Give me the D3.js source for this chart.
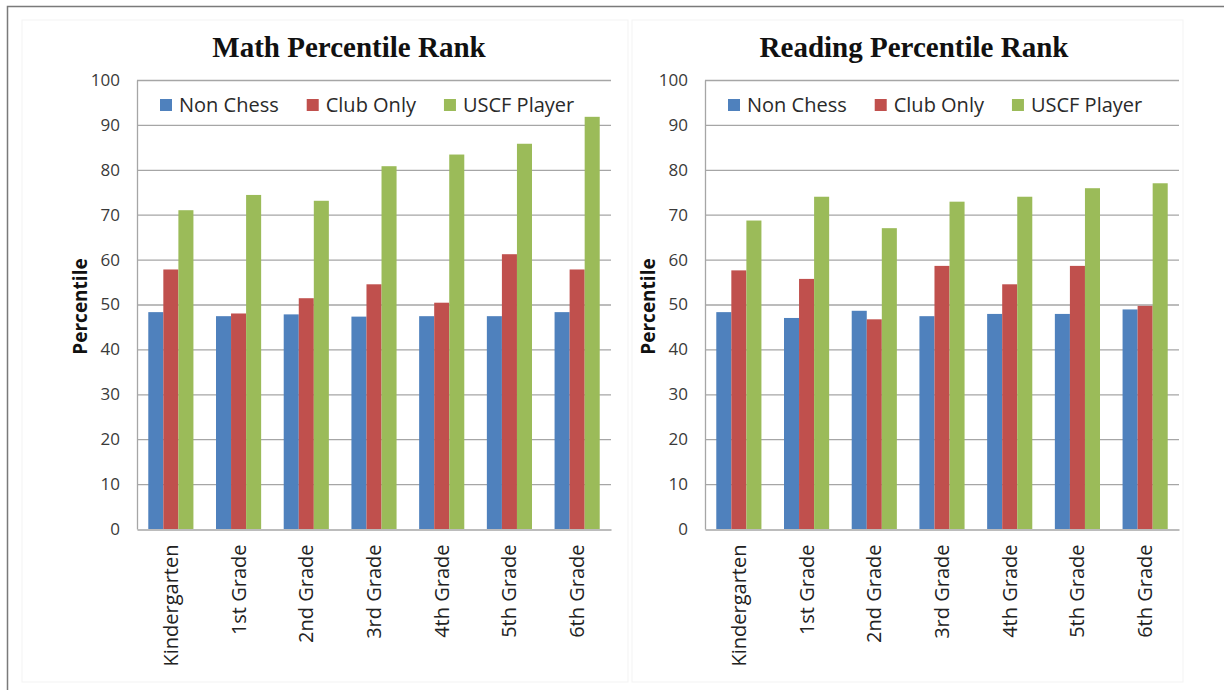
<!DOCTYPE html>
<html>
<head>
<meta charset="utf-8">
<script src="https://cdn.jsdelivr.net/npm/d3@7"></script>
<style>
  html, body { margin: 0; padding: 0; background: #fff; }
  svg { display: block; }
</style>
</head>
<body>
<svg id="chart" width="1224" height="690"></svg>
<script>
// Grade levels on the category axis
const grades = ["Kindergarten", "1st Grade", "2nd Grade", "3rd Grade", "4th Grade", "5th Grade", "6th Grade"];
// Player groups (bar series)
const groups = ["Non Chess", "Club Only", "USCF Player"];
const groupColors = ["#4F81BD", "#C0504D", "#9BBB59"];
// Y axis ticks
const yTicks = [0, 10, 20, 30, 40, 50, 60, 70, 80, 90, 100];

// Math percentile rank by grade
const mathNonChess   = [48.3, 47.4, 47.8, 47.3, 47.4, 47.4, 48.3];
const mathClubOnly   = [57.8, 48.0, 51.4, 54.5, 50.4, 61.2, 57.8];
const mathUSCFPlayer = [71.0, 74.4, 73.1, 80.8, 83.4, 85.8, 91.8];

// Reading percentile rank by grade
const readNonChess   = [48.3, 47.0, 48.6, 47.4, 47.9, 47.9, 48.9];
const readClubOnly   = [57.6, 55.7, 46.7, 58.6, 54.5, 58.6, 49.7];
const readUSCFPlayer = [68.7, 74.0, 67.0, 72.9, 74.0, 75.9, 77.0];

const svg = d3.select("#chart");

// Outer frame
svg.append("path")
  .attr("d", "M7.5,690 L7.5,6.5 L1224,6.5")
  .attr("fill", "none")
  .attr("stroke", "#7a7a7a")
  .attr("stroke-width", 1.5);

const tickFont = "'Open Sans', sans-serif";

function drawPanel(opts) {
  const { title, series, x0, x1, titleX } = opts;
  const yTop = 80, yBottom = 529;

  const g = svg.append("g");

  // faint chart-area border
  g.append("rect")
    .attr("x", opts.areaX).attr("y", 20)
    .attr("width", opts.areaW).attr("height", 662)
    .attr("fill", "none").attr("stroke", "#f3f3f3").attr("stroke-width", 1);

  const x = d3.scaleBand().domain(grades).range([x0, x1])
    .paddingInner(1 / 3).paddingOuter(1 / 6);
  const xs = d3.scaleBand().domain(groups).range([0, x.bandwidth()]).padding(0);
  const y = d3.scaleLinear().domain([0, 100]).range([yBottom, yTop]);

  // gridlines
  g.append("g").selectAll("line").data(yTicks.filter(t => t > 0)).join("line")
    .attr("x1", x0).attr("x2", x1)
    .attr("y1", d => y(d) + 0.5).attr("y2", d => y(d) + 0.5)
    .attr("stroke", "#a6a6a6").attr("stroke-width", 1.3);

  // y axis labels
  const yAxis = d3.axisLeft(y).tickValues(yTicks).tickSize(0).tickPadding(17);
  const ya = g.append("g").attr("transform", `translate(${x0},0)`).call(yAxis);
  ya.select(".domain").attr("stroke", "#a6a6a6").attr("stroke-width", 1.3);
  ya.selectAll("text")
    .attr("font-family", tickFont).attr("font-size", 17).attr("fill", "#3a3a3a");

  // bars
  const rows = grades.map((gr, i) => ({ grade: gr, values: series.map(s => s[i]) }));
  g.append("g").selectAll("g").data(rows).join("g")
    .attr("transform", d => `translate(${x(d.grade)},0)`)
    .selectAll("rect").data(d => d.values.map((v, k) => ({ v, k }))).join("rect")
    .attr("x", d => xs(groups[d.k]))
    .attr("width", xs.bandwidth())
    .attr("y", d => y(d.v))
    .attr("height", d => y(0) - y(d.v))
    .attr("fill", d => groupColors[d.k]);

  // x axis
  const xAxis = d3.axisBottom(x).tickSize(0).tickPadding(0);
  const xa = g.append("g").attr("transform", `translate(0,${yBottom + 0.5})`).call(xAxis);
  xa.select(".domain").attr("stroke", "#a6a6a6").attr("stroke-width", 1.3);
  xa.selectAll(".tick text")
    .attr("font-family", tickFont).attr("font-size", 20).attr("fill", "#222")
    .attr("text-anchor", "end")
    .attr("dy", "0.35em")
    .attr("transform", "translate(0,15) rotate(-90)")
    .attr("y", 0).attr("x", 0);

  // y axis title
  g.append("text")
    .attr("transform", `translate(${x0 - 50},${(yTop + yBottom) / 2 + 2}) rotate(-90)`)
    .attr("text-anchor", "middle")
    .attr("font-family", tickFont).attr("font-size", 19).attr("font-weight", "bold")
    .attr("fill", "#111")
    .text("Percentile");

  // chart title
  g.append("text")
    .attr("x", titleX).attr("y", 57)
    .attr("text-anchor", "middle")
    .attr("font-family", "'Liberation Serif', 'Times New Roman', serif")
    .attr("font-size", 29).attr("font-weight", "bold").attr("fill", "#111")
    .text(title);

  // legend
  const lg = g.append("g").attr("transform", `translate(${x0 + 23},105)`);
  let cx = 0;
  groups.forEach((name, k) => {
    lg.append("rect").attr("x", cx).attr("y", -6).attr("width", 12).attr("height", 12)
      .attr("fill", groupColors[k]);
    const t = lg.append("text").attr("x", cx + 19).attr("y", 0).attr("dy", "0.36em")
      .attr("font-family", tickFont).attr("font-size", 20).attr("fill", "#2a2a2a")
      .text(name);
    cx += 19 + t.node().getComputedTextLength() + 28;
  });
}

drawPanel({
  title: "Math Percentile Rank",
  series: [mathNonChess, mathClubOnly, mathUSCFPlayer],
  x0: 137, x1: 611, titleX: 349, areaX: 22, areaW: 606
});

drawPanel({
  title: "Reading Percentile Rank",
  series: [readNonChess, readClubOnly, readUSCFPlayer],
  x0: 705, x1: 1179, titleX: 914, areaX: 632, areaW: 551
});
</script>
</body>
</html>
